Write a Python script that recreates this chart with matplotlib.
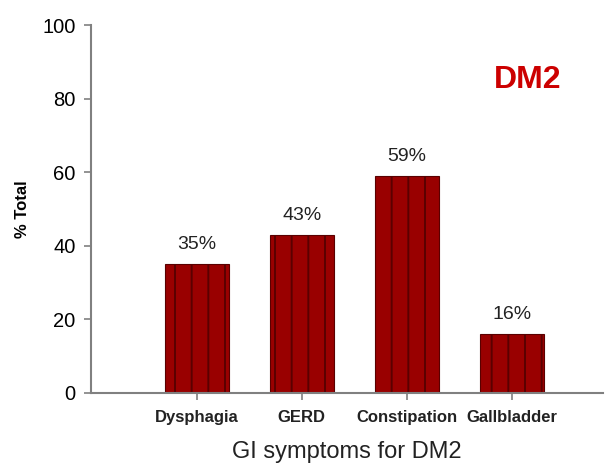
import matplotlib

matplotlib.use("Agg")
import matplotlib.pyplot as plt

categories = ["Dysphagia", "GERD", "Constipation", "Gallbladder"]
values = [35, 43, 59, 16]
labels = ["35%", "43%", "59%", "16%"]

BAR, STRIPE, SPINE = "#990000", "#5a0000", "#808080"

plt.rcParams["font.family"] = ["Liberation Sans", "DejaVu Sans"]
plt.rcParams["hatch.linewidth"] = 1.4
plt.rcParams["hatch.color"] = STRIPE

fig = plt.figure(figsize=(6.05, 4.65), dpi=100)
ax = fig.add_axes([0.150, 0.155, 0.847, 0.791])

x = range(len(categories))
ax.bar(x, values, width=0.61, color=BAR, edgecolor=STRIPE, linewidth=0.8, hatch="|")
for xi, v, lab in zip(x, values, labels):
    ax.annotate(lab, (xi, v), xytext=(0, 8), textcoords="offset points",
                ha="center", va="bottom", fontsize=14, color="#222222")

ax.set_xlim(-1.01, 3.87)
ax.set_ylim(0, 100)
ax.set_yticks(range(0, 101, 20))
ax.set_xticks(list(x))
ax.set_xticklabels(categories, fontsize=12, fontweight="bold", color="#222222")
ax.tick_params(axis="y", labelsize=14.5, direction="out", length=5, color=SPINE, width=1.2, pad=6)
ax.tick_params(axis="x", direction="out", length=5, color=SPINE, width=1.2, pad=7)
for s in ("top", "right"):
    ax.spines[s].set_visible(False)
for s in ("left", "bottom"):
    ax.spines[s].set_color(SPINE)
    ax.spines[s].set_linewidth(1.5)

ax.set_ylabel("% Total", fontsize=12, fontweight="bold", labelpad=9)
ax.set_xlabel("GI symptoms for DM2", fontsize=17, labelpad=12, color="#222222")
ax.text(0.852, 0.851, "DM2", transform=ax.transAxes, fontsize=23, fontweight="bold",
        color="#cc0000", ha="center", va="center")

fig.savefig("out.png", dpi=100)
